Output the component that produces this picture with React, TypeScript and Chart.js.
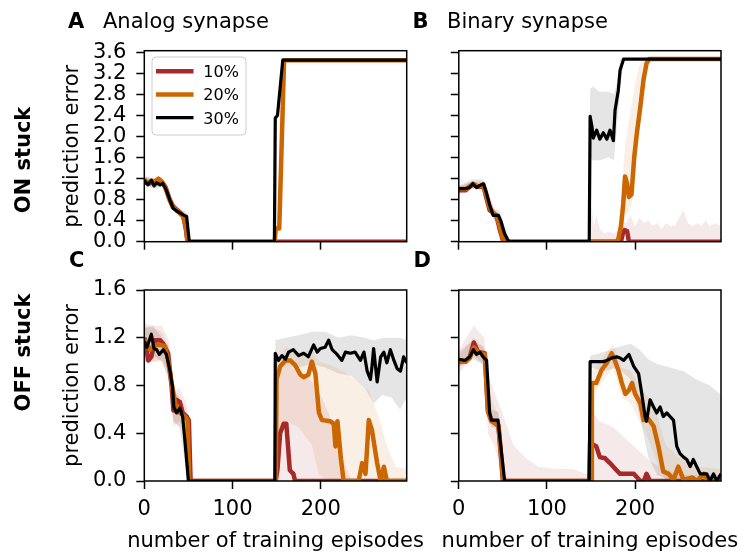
import React, { useEffect, useRef } from 'react';
import { Chart, registerables } from 'chart.js';

Chart.register(...registerables);

type Pt = [number, number];
type Band = [number, number, number]; // x, lower, upper

// ---------------- data ----------------
const seriesLabels = ['10%', '20%', '30%'];
const panelLetters = ['A', 'B', 'C', 'D'];
const panelTitles = ['Analog synapse', 'Binary synapse'];
const rowLabels = ['ON stuck', 'OFF stuck'];
const yAxisTitle = 'prediction error';
const xAxisTitle = 'number of training episodes';
const xTickValues = [0, 100, 200];
const xMax = 297.5;
const yTicksOn = [0, 0.4, 0.8, 1.2, 1.6, 2.0, 2.4, 2.8, 3.2, 3.6];
const yMaxOn = 3.63;
const yTicksOff = [0, 0.4, 0.8, 1.2, 1.6];
const yMaxOff = 1.6;

// A: ON stuck, analog synapse
const onAnalog10: Pt[] = [[0,1.15],[4,1.1],[8,1.12],[12,1.12],[16,1.18],[20,1.13],[24,1.04],[28,0.84],[32,0.68],[36,0.62],[40,0.56],[44,0.5],[47,0.25],[49,0],[297.5,0]];
const onAnalog20: Pt[] = [[0,1.18],[4,1.12],[8,1.15],[12,1.14],[16,1.2],[20,1.14],[24,1.03],[28,0.82],[32,0.66],[36,0.6],[40,0.55],[44,0.48],[47,0.3],[49,0],[148,0],[149,0.25],[153,0.25],[158.5,3.45],[297.5,3.45]];
const onAnalog30: Pt[] = [[0,1.17],[4,1.08],[8,1.17],[11,1.06],[14,1.12],[18,1.08],[21,1.11],[25,0.98],[29,0.79],[33,0.63],[38,0.57],[44,0.51],[48,0.48],[51,0],[147.5,0],[148.5,2.35],[151,2.4],[157,3.45],[297.5,3.45]];
const onAnalog10Band: Band[] = [[0,1.08,1.24],[10,1.05,1.2],[20,1.05,1.22],[28,0.76,0.92],[36,0.55,0.7],[44,0.42,0.58],[49,0,0.08],[51,0,0]];
const onAnalog20Band: Band[] = [[0,1.1,1.24],[10,1.07,1.22],[20,1.06,1.22],[28,0.74,0.9],[36,0.53,0.68],[44,0.4,0.56],[49,0,0.08],[51,0,0]];
const onAnalog30Band: Band[] = [[0,1.1,1.24],[10,1.0,1.2],[20,1.04,1.18],[29,0.72,0.86],[38,0.5,0.64],[48,0.4,0.56],[52,0,0.1],[54,0,0]];

// B: ON stuck, binary synapse
const onBinary10: Pt[] = [[0,0.98],[8,0.98],[12,1.04],[16,1.1],[20,1.06],[24,1.04],[28,1.06],[31,0.85],[35,0.6],[39,0.55],[43,0.48],[47,0.2],[50,0.03],[52,0],[184,0],[186,0.15],[188,0.22],[191,0.2],[193,0],[297.5,0]];
const onBinary20: Pt[] = [[0,1.0],[8,1.0],[12,1.05],[16,1.08],[20,1.06],[24,1.05],[28,1.08],[31,0.9],[35,0.65],[39,0.55],[43,0.5],[47,0.25],[50,0.05],[52,0],[179,0],[181,0.05],[184,0.3],[186.5,0.7],[188.6,1.24],[191,1.1],[193,0.85],[196,0.9],[199,1.6],[202,2.06],[206,2.57],[209.5,3.07],[213,3.39],[216,3.47],[297.5,3.47]];
const onBinary30: Pt[] = [[0,1.01],[8,1.01],[12,1.03],[16,1.1],[20,1.03],[24,1.07],[28,1.1],[31,0.95],[35,0.7],[39,0.5],[45,0.5],[48,0.38],[52,0.15],[56,0.02],[58,0],[148,0],[149,2.38],[151,2.2],[152.6,1.97],[156.4,2.12],[160,1.95],[164,2.07],[168,1.95],[171.6,2.12],[175.4,1.92],[177.3,2.5],[181,2.88],[183,3.26],[187,3.47],[297.5,3.47]];
const onBinary10Band: Band[] = [[0,0.9,1.05],[16,1.02,1.16],[28,0.98,1.14],[33,0.6,0.9],[40,0.42,0.62],[47,0.05,0.3],[52,0,0.05],[55,0,0],[147,0,0],[149,0,0.45],[151,0,0.65],[153,0,0.3],[156,0,0.5],[160,0,0.25],[165,0,0.15],[170,0,0.2],[175,0,0.15],[180,0,0.2],[185,0,0.4],[190,0,0.35],[195,0,0.5],[200,0,0.3],[205,0,0.45],[210,0,0.35],[215,0,0.4],[220,0,0.3],[225,0,0.35],[230,0,0.25],[235,0,0.35],[240,0,0.3],[245,0,0.3],[250,0,0.45],[255,0,0.6],[260,0,0.35],[265,0,0.3],[270,0,0.35],[275,0,0.3],[280,0,0.4],[285,0,0.3],[290,0,0.35],[297.5,0,0.3]];
const onBinary20Band: Band[] = [[0,0.95,1.05],[16,1.0,1.14],[28,1.0,1.14],[33,0.65,0.95],[40,0.45,0.62],[47,0.1,0.35],[52,0,0.02],[54,0,0],[178,0,0],[181,0,0.25],[185,0,0.9],[188,0.5,1.7],[192,0.55,2.2],[196,0.7,2.6],[200,1.3,3.0],[204,1.9,3.3],[208,2.6,3.47],[212,3.1,3.5],[216,3.4,3.5],[220,3.45,3.48]];
const onBinary30Band: Band[] = [[0,0.95,1.07],[15,1.0,1.18],[28,1.02,1.18],[33,0.7,1.0],[40,0.4,0.62],[46,0.4,0.6],[52,0.05,0.3],[58,0,0.05],[60,0,0],[148,0,0],[149,1.6,2.9],[152,1.55,2.95],[160,1.55,2.85],[170,1.6,2.85],[176,1.55,2.8],[179,2.1,3.0],[183,2.9,3.47],[187,3.44,3.5]];

// C: OFF stuck, analog synapse
const offAnalog10: Pt[] = [[0,1.2],[4.5,1.01],[8,1.04],[12,1.18],[18,1.18],[21.5,1.15],[27,1.07],[31,0.79],[33,0.59],[36.5,0.68],[40.5,0.66],[43.5,0.57],[48,0.54],[50.5,0.51],[52.5,0],[149,0],[151,0.1],[154,0.4],[158,0.48],[161,0.48],[165,0.09],[169,0.06],[171,0],[297.5,0]];
const offAnalog20: Pt[] = [[0,1.18],[6.5,1.1],[12,1.14],[18,1.14],[23.5,1.13],[27,1.01],[31,0.82],[35,0.65],[40.5,0.57],[46,0.54],[49,0.51],[51,0],[149,0],[150,0.85],[154,0.96],[160,1.01],[165.5,1.01],[171,0.97],[177,0.89],[180.7,0.87],[186,0.89],[190,1.0],[194,0.9],[198,0.57],[201.5,0.51],[211,0.5],[214.8,0.48],[216.7,0.29],[219,0.5],[223,0.18],[226,0],[243,0],[247,0.15],[250.8,0.06],[254.5,0.51],[258,0.43],[264,0.15],[268,0],[271.6,0.12],[275,0],[297.5,0]];
const offAnalog30: Pt[] = [[0,1.17],[3,1.12],[8,1.23],[11,1.11],[14,1.1],[17,1.06],[21.5,1.1],[25,1.06],[29,0.93],[32,0.79],[33.5,0.62],[36.5,0.57],[40.5,0.61],[43.5,0.54],[46,0.34],[50,0],[148,0],[148.5,1.07],[152,1.01],[156,1.05],[160,1.02],[163.6,1.08],[169,1.1],[175,1.05],[180.7,1.07],[186,1.04],[192,1.14],[196,1.08],[199.6,1.11],[205,1.12],[209,1.18],[213,1.1],[218.6,1.06],[224,1.01],[228,1.08],[233.7,1.07],[239,1.08],[245,1.01],[249,1.08],[252.7,0.92],[256.4,0.85],[258,0.95],[260,1.11],[264,0.83],[268,1.04],[271.6,1.08],[275,0.99],[279,1.1],[283,1.01],[286.7,0.94],[290.5,0.92],[294,1.04],[297.5,0.99]];
const offAnalog10Band: Band[] = [[0,1.0,1.32],[10,1.0,1.3],[20,1.02,1.3],[28,0.9,1.18],[33,0.45,0.75],[40,0.5,0.78],[48,0.4,0.65],[52.5,0,0.1],[55,0,0],[149,0,0],[150,0,0.6],[155,0,0.95],[165,0,0.95],[180,0,0.9],[195,0,0.8],[210,0,0.55],[222,0,0.25],[232,0,0.05],[236,0,0]];
const offAnalog20Band: Band[] = [[0,1.0,1.3],[10,1.0,1.28],[20,1.0,1.25],[28,0.85,1.12],[33,0.5,0.8],[40,0.45,0.68],[48,0.4,0.62],[51,0,0.1],[53,0,0],[149,0,0],[150,0.3,1.0],[160,0.5,1.12],[175,0.45,1.08],[190,0.3,1.1],[198,0.05,1.0],[210,0,0.98],[225,0,0.92],[240,0,0.85],[255,0,0.75],[265,0,0.55],[275,0,0.3],[285,0,0.12],[297.5,0,0.1]];
const offAnalog30Band: Band[] = [[0,1.05,1.28],[10,1.05,1.3],[20,1.0,1.2],[28,0.85,1.05],[33,0.5,0.75],[40,0.45,0.7],[46,0.15,0.5],[50,0,0.1],[52,0,0],[148,0,0],[148.5,0.95,1.18],[160,0.95,1.2],[175,0.95,1.22],[190,0.98,1.25],[205,0.95,1.25],[220,0.9,1.2],[235,0.88,1.22],[250,0.78,1.2],[260,0.65,1.18],[270,0.72,1.2],[280,0.7,1.2],[290,0.6,1.2],[297.5,0.7,1.18]];

// D: OFF stuck, binary synapse
const offBinary10: Pt[] = [[0,1.0],[8,1.0],[12.5,1.04],[17,1.16],[22,1.08],[29.5,1.07],[33,0.6],[37,0.51],[45,0.46],[50,0],[148,0],[149,0.32],[156,0.29],[160,0.2],[166,0.19],[171.5,0.15],[179,0.09],[183,0.06],[198.5,0.06],[206,0],[210,0],[213,0.06],[217,0],[297.5,0]];
const offBinary20: Pt[] = [[0,1.0],[8,1.0],[12.5,1.03],[17,1.12],[22,1.08],[29.5,1.06],[33,0.58],[37,0.5],[45,0.47],[50.5,0],[150,0],[151,0.82],[156,0.82],[162,0.93],[168,0.99],[173.5,1.07],[177,1.01],[181,0.93],[185,0.82],[189,0.73],[193,0.76],[196.6,0.82],[200,0.73],[206,0.65],[209.6,0.51],[213,0.54],[221,0.46],[226.5,0.29],[232,0.08],[238,0.06],[243.6,0.01],[249,0.12],[255,0.01],[265,0.03],[270,0],[278,0.06],[282,0],[297.5,0]];
const offBinary30: Pt[] = [[0,1.02],[7,1.01],[12.5,1.04],[16.5,1.1],[20,1.06],[24,1.08],[27.5,1.04],[31.5,1.01],[35,0.57],[37,0.51],[44.5,0.51],[46.5,0.37],[52,0],[148,0],[149,1.0],[164,1.0],[168,1.01],[173.5,1.03],[179,1.04],[183,1.03],[187,1.01],[193,1.06],[198.5,0.96],[204,0.9],[207.6,0.73],[211.4,0.54],[213,0.5],[217,0.68],[221,0.62],[224.6,0.57],[228.4,0.62],[232,0.54],[236,0.57],[239.8,0.54],[243.6,0.51],[247.3,0.29],[251,0.23],[255,0.2],[258.7,0.18],[262.5,0.12],[266,0.18],[270,0.12],[273.9,0.06],[277.7,0.06],[281.4,0.06],[285,0],[289,0.06],[292.8,0],[297.5,0.06]];
const offBinary10Band: Band[] = [[0,0.9,1.1],[17,1.05,1.3],[29,0.95,1.2],[33,0.4,0.9],[40,0.3,0.75],[48,0.1,0.6],[55,0,0.45],[62,0,0.3],[75,0,0.2],[90,0,0.12],[110,0,0.1],[130,0,0.1],[147,0,0.05],[148,0,0],[149,0,0.6],[160,0,0.5],[175,0,0.45],[190,0,0.35],[205,0,0.25],[220,0,0.15],[235,0,0.1],[250,0,0.05],[297.5,0,0.05]];
const offBinary20Band: Band[] = [[0,0.95,1.05],[17,1.05,1.2],[29,0.98,1.12],[33,0.5,0.75],[45,0.4,0.55],[50.5,0,0.05],[52,0,0],[150,0,0],[151,0.7,0.92],[165,0.85,1.05],[175,0.95,1.15],[185,0.7,0.95],[195,0.65,0.92],[205,0.5,0.8],[215,0.35,0.7],[225,0.15,0.55],[235,0,0.3],[250,0,0.2],[270,0,0.12],[297.5,0,0.1]];
const offBinary30Band: Band[] = [[0,0.95,1.08],[16,1.02,1.18],[28,0.98,1.12],[33,0.7,0.95],[37,0.45,0.6],[45,0.45,0.58],[48,0.25,0.45],[53,0,0.05],[55,0,0],[148,0,0],[149,0.95,1.05],[165,0.92,1.08],[180,0.95,1.12],[195,0.85,1.15],[205,0.55,1.1],[215,0.2,1.02],[225,0.05,0.98],[240,0,0.95],[255,0,0.92],[270,0,0.85],[285,0,0.8],[297.5,0,0.72]];

// ---------------- styles / layout ----------------
const W = 741;
const H = 552;
const FONT = "'DejaVu Sans', sans-serif";
const COLORS = ['#a52a2a', '#cc6600', '#000000'];
const BAND_COLORS = ['rgba(165,42,42,0.1)', 'rgba(204,102,0,0.1)', 'rgba(0,0,0,0.1)'];
const LINE_W = [4.5, 4.5, 3.2];
const TICK_FONT = 21;
const LABEL_FONT = 21;

type Rect = { l: number; r: number; t: number; b: number };
type PanelSpec = {
  rect: Rect;
  yMax: number;
  yTicks: number[];
  showY: boolean;
  showX: boolean;
  lines: Pt[][];
  bands: Band[][];
  withLegend: boolean;
  withDecor: boolean;
};

const panels: PanelSpec[] = [
  { rect: { l: 144.3, r: 406.7, t: 50.7, b: 241.7 }, yMax: yMaxOn, yTicks: yTicksOn, showY: true, showX: false,
    lines: [onAnalog10, onAnalog20, onAnalog30], bands: [onAnalog10Band, onAnalog20Band, onAnalog30Band], withLegend: true, withDecor: true },
  { rect: { l: 458.8, r: 721, t: 50.7, b: 241.7 }, yMax: yMaxOn, yTicks: yTicksOn, showY: false, showX: false,
    lines: [onBinary10, onBinary20, onBinary30], bands: [onBinary10Band, onBinary20Band, onBinary30Band], withLegend: false, withDecor: false },
  { rect: { l: 144.3, r: 406.7, t: 290, b: 481 }, yMax: yMaxOff, yTicks: yTicksOff, showY: true, showX: true,
    lines: [offAnalog10, offAnalog20, offAnalog30], bands: [offAnalog10Band, offAnalog20Band, offAnalog30Band], withLegend: false, withDecor: false },
  { rect: { l: 458.8, r: 721, t: 290, b: 481 }, yMax: yMaxOff, yTicks: yTicksOff, showY: false, showX: true,
    lines: [offBinary10, offBinary20, offBinary30], bands: [offBinary10Band, offBinary20Band, offBinary30Band], withLegend: false, withDecor: false },
];

const framePlugin = {
  id: 'frame',
  afterDatasetsDraw(chart: any) {
    const { ctx, chartArea } = chart;
    const { left, top, right, bottom } = chartArea;
    ctx.save();
    ctx.strokeStyle = '#000';
    ctx.lineWidth = 1.5;
    ctx.strokeRect(left, top, right - left, bottom - top);
    ctx.restore();
  },
};

const legendPlugin = {
  id: 'insetLegend',
  afterDatasetsDraw(chart: any) {
    const ctx = chart.ctx as CanvasRenderingContext2D;
    ctx.save();
    ctx.beginPath();
    (ctx as any).roundRect(152, 57, 94, 78, 4);
    ctx.fillStyle = 'rgba(255,255,255,0.8)';
    ctx.fill();
    ctx.strokeStyle = '#cccccc';
    ctx.lineWidth = 1;
    ctx.stroke();
    const rows = [71.3, 94.5, 117.7];
    seriesLabels.forEach((lab, i) => {
      ctx.beginPath();
      ctx.moveTo(156, rows[i]);
      ctx.lineTo(193.5, rows[i]);
      ctx.strokeStyle = COLORS[i];
      ctx.lineWidth = LINE_W[i];
      ctx.stroke();
      ctx.fillStyle = '#000';
      ctx.font = `16px ${FONT}`;
      ctx.textBaseline = 'alphabetic';
      ctx.textAlign = 'left';
      ctx.fillText(lab, 203.3, rows[i] + 5.8);
    });
    ctx.restore();
  },
};

const decorPlugin = {
  id: 'decor',
  afterDraw(chart: any) {
    const ctx = chart.ctx as CanvasRenderingContext2D;
    ctx.save();
    ctx.fillStyle = '#000';
    ctx.textBaseline = 'alphabetic';
    ctx.textAlign = 'left';
    const bold = `bold ${LABEL_FONT}px ${FONT}`;
    const reg = `${LABEL_FONT}px ${FONT}`;
    ctx.font = bold;
    ctx.fillText(panelLetters[0], 68, 28);
    ctx.fillText(panelLetters[1], 412.5, 28);
    ctx.fillText(panelLetters[2], 69, 267);
    ctx.fillText(panelLetters[3], 413.5, 267);
    ctx.font = reg;
    ctx.fillText(panelTitles[0], 103, 28);
    ctx.fillText(panelTitles[1], 447, 28);
    ctx.textAlign = 'center';
    ctx.fillText(xAxisTitle, 275.5, 547);
    ctx.fillText(xAxisTitle, 589.9, 547);
    const rot = (text: string, x: number, y: number, font: string) => {
      ctx.save();
      ctx.font = font;
      ctx.translate(x, y);
      ctx.rotate(-Math.PI / 2);
      ctx.textAlign = 'center';
      ctx.fillText(text, 0, 0);
      ctx.restore();
    };
    rot(yAxisTitle, 78, 146.2, reg);
    rot(yAxisTitle, 78, 385.5, reg);
    rot(rowLabels[0], 30, 160, bold);
    rot(rowLabels[1], 30, 352.5, bold);
    ctx.restore();
  },
};

function buildConfig(p: PanelSpec): any {
  const datasets: any[] = [];
  p.bands.forEach((band, i) => {
    datasets.push({
      data: band.map(([x, , hi]) => ({ x, y: hi })),
      borderColor: 'transparent', borderWidth: 0, pointRadius: 0,
      backgroundColor: BAND_COLORS[i], fill: '+1', order: 10 + i, clip: 0,
    });
    datasets.push({
      data: band.map(([x, lo]) => ({ x, y: lo })),
      borderColor: 'transparent', borderWidth: 0, pointRadius: 0,
      fill: false, order: 10 + i, clip: 0,
    });
  });
  p.lines.forEach((pts, i) => {
    datasets.push({
      label: seriesLabels[i],
      data: pts.map(([x, y]) => ({ x, y })),
      borderColor: COLORS[i], borderWidth: LINE_W[i], pointRadius: 0,
      borderJoinStyle: 'round', borderCapStyle: 'butt',
      fill: false, tension: 0, order: 2 - i, clip: 0,
    });
  });
  const r = p.rect;
  const xAxisH = 40;
  return {
    type: 'line',
    data: { datasets },
    options: {
      animation: false,
      responsive: false,
      devicePixelRatio: 1,
      events: [],
      layout: { autoPadding: false, padding: { left: 0, top: r.t, right: W - r.r, bottom: H - r.b - xAxisH } },
      plugins: { legend: { display: false }, tooltip: { enabled: false }, title: { display: false } },
      scales: {
        x: {
          type: 'linear', min: 0, max: xMax,
          afterBuildTicks: (s: any) => { s.ticks = xTickValues.map((value) => ({ value })); },
          afterFit: (s: any) => { s.height = xAxisH; },
          grid: { display: true, drawOnChartArea: false, drawTicks: true, tickLength: 8, tickWidth: 1.5, tickColor: '#000' },
          border: { display: false },
          ticks: { display: p.showX, color: '#000', padding: 8, autoSkip: false, maxRotation: 0,
            font: { family: FONT, size: TICK_FONT }, callback: (v: any) => String(v) },
        },
        y: {
          type: 'linear', min: 0, max: p.yMax,
          afterBuildTicks: (s: any) => { s.ticks = p.yTicks.map((value) => ({ value })); },
          afterFit: (s: any) => { s.width = r.l; },
          grid: { display: true, drawOnChartArea: false, drawTicks: true, tickLength: 8, tickWidth: 1.5, tickColor: '#000' },
          border: { display: false },
          ticks: { display: p.showY, color: '#000', padding: 10, autoSkip: false,
            font: { family: FONT, size: TICK_FONT }, callback: (v: any) => Number(v).toFixed(1) },
        },
      },
    },
    plugins: [framePlugin, ...(p.withLegend ? [legendPlugin] : []), ...(p.withDecor ? [decorPlugin] : [])],
  };
}

function Panel({ spec }: { spec: PanelSpec }) {
  const ref = useRef<HTMLCanvasElement>(null);
  useEffect(() => {
    const chart = new Chart(ref.current as HTMLCanvasElement, buildConfig(spec));
    return () => chart.destroy();
  }, [spec]);
  return (
    <canvas ref={ref} width={W} height={H}
      style={{ position: 'absolute', left: 0, top: 0, width: W, height: H }} />
  );
}

export default function App() {
  return (
    <div style={{ position: 'absolute', left: 0, top: 0, width: W, height: H, background: '#fff', overflow: 'hidden' }}>
      {panels.map((p, i) => <Panel key={i} spec={p} />)}
    </div>
  );
}
